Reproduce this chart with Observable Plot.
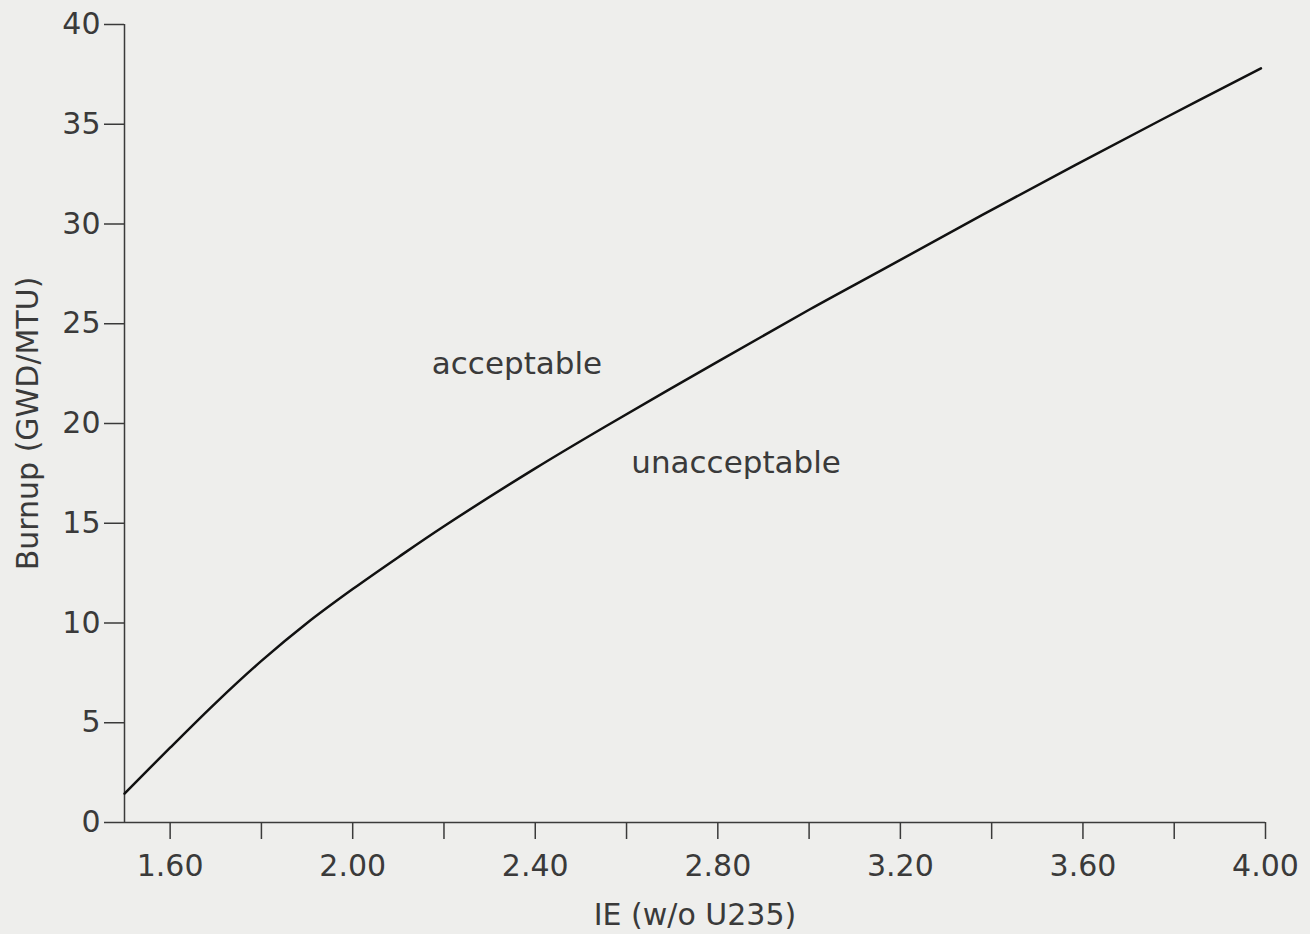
<!DOCTYPE html>
<html><head><meta charset="utf-8">
<script src="https://cdn.jsdelivr.net/npm/d3@7"></script>
<script src="https://cdn.jsdelivr.net/npm/@observablehq/plot@0.6"></script>
<style>
html,body{margin:0;padding:0;background:#eeeeec;}
#chart svg{display:block;}
</style></head><body><div id="chart"></div>
<script>
// Curve: IE (w/o U235) vs Burnup (GWD/MTU)
const ie     = [1.50, 1.60, 1.70, 1.80, 1.90, 2.00, 2.10, 2.20, 2.40, 2.55, 2.80, 3.00, 3.16, 3.44, 3.77, 3.99];
const burnup = [1.45, 3.75, 6.0,  8.1,  10.0, 11.7, 13.3, 14.85, 17.75, 19.8, 23.1, 25.7, 27.7, 31.2, 35.2, 37.8];

const yTicks = [0, 5, 10, 15, 20, 25, 30, 35, 40];
const xLabelTicks = [1.60, 2.00, 2.40, 2.80, 3.20, 3.60, 4.00];
const xAllTicks = [1.60, 1.80, 2.00, 2.20, 2.40, 2.60, 2.80, 3.00, 3.20, 3.40, 3.60, 3.80, 4.00];

const regionText = ["acceptable", "unacceptable"];
const regionIE = [2.36, 2.84];
const regionBurnup = [22.96, 18.0];

const curve = ie.map((x, i) => ({ie: x, burnup: burnup[i]}));
const regions = regionText.map((t, i) => ({t, x: regionIE[i], y: regionBurnup[i]}));

const ink = "#3a3a3a";
const chart = Plot.plot({
  width: 1310, height: 934,
  marginLeft: 124, marginRight: 45, marginTop: 24, marginBottom: 112,
  x: {domain: [1.5, 4.0]},
  y: {domain: [0, 40]},
  style: {background: "transparent", fontFamily: "DejaVu Sans", fontSize: "30px", color: ink},
  marks: [
    Plot.ruleY([0], {stroke: ink, strokeWidth: 1.5}),
    Plot.ruleX([1.5], {stroke: ink, strokeWidth: 1.5}),
    Plot.axisY({ticks: yTicks, tickSize: 20, tickPadding: 4, fontSize: 30, stroke: ink, strokeWidth: 1.5,
      label: "Burnup (GWD/MTU)", labelAnchor: "center", labelArrow: "none", labelOffset: 108}),
    Plot.axisX({ticks: xAllTicks, tickSize: 17, tickFormat: () => "", stroke: ink, strokeWidth: 1.5, label: null}),
    Plot.axisX({ticks: xLabelTicks, tickSize: 0, tickPadding: 32, fontSize: 30, tickFormat: d3.format(".2f"),
      label: "IE (w/o U235)", labelAnchor: "center", labelArrow: "none", labelOffset: 102}),
    Plot.line(curve, {x: "ie", y: "burnup", curve: "catmull-rom", stroke: "#111", strokeWidth: 2.5}),
    Plot.text(regions, {x: "x", y: "y", text: "t", fontSize: 31, fill: ink})
  ]
});
document.getElementById("chart").appendChild(chart);
</script></body></html>
